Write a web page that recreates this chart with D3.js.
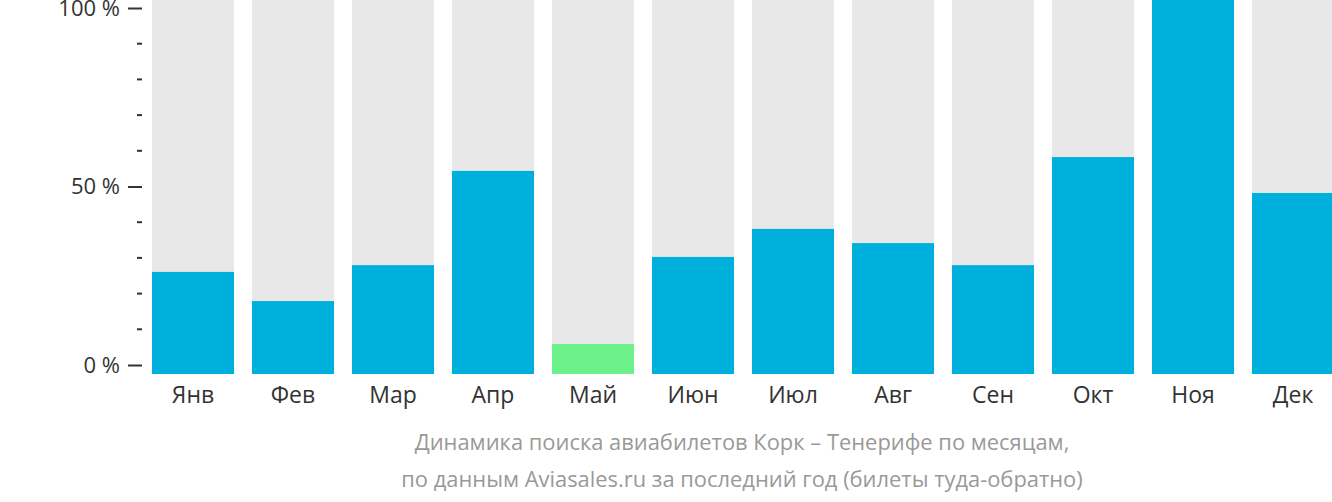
<!DOCTYPE html>
<html><head><meta charset="utf-8">
<script src="https://cdn.jsdelivr.net/npm/d3@7"></script>
<style>body{margin:0;background:#fff}text{font-family:"Open Sans",sans-serif}</style>
</head><body><svg id="c" width="1332" height="502"></svg>
<script>
const months = ["Янв","Фев","Мар","Апр","Май","Июн","Июл","Авг","Сен","Окт","Ноя","Дек"];
const values = [27.3,19.5,29.1,54.3,8.0,31.3,38.8,35.0,29.1,58.0,100,48.4];
const lowIndex = 4;
const tickValues = [0,50,100];
const titleLines = ["Динамика поиска авиабилетов Корк – Тенерифе по месяцам,",
  "по данным Aviasales.ru за последний год (билеты туда-обратно)"];

const svg = d3.select("#c");
const x = d3.scaleBand().domain(months).range([143,1343]).paddingInner(0.18).paddingOuter(0.09);
const y = d3.scaleLinear().domain([0,100]).range([374,0]);
const yAxisScale = d3.scaleLinear().domain([0,100]).range([365,8]);

svg.selectAll(".bg").data(months).join("rect")
  .attr("x",d=>x(d)).attr("width",x.bandwidth()).attr("y",y(100)).attr("height",y(0)-y(100))
  .attr("fill","#e8e8e8");
svg.selectAll(".bar").data(values).join("rect")
  .attr("x",(d,i)=>x(months[i])).attr("width",x.bandwidth())
  .attr("y",d=>y(d)).attr("height",d=>y(0)-y(d))
  .attr("fill",(d,i)=>i===lowIndex?"#6bf08a":"#00b0dc");

// minor ticks
const g = svg.append("g").attr("transform","translate(142,0)");
g.selectAll(".minor").data(d3.range(0,101,10).filter(v=>v%50)).join("line")
  .attr("x1",-5).attr("x2",0).attr("y1",d=>yAxisScale(d)).attr("y2",d=>yAxisScale(d))
  .attr("stroke","#333").attr("stroke-width",2);
const ax = g.append("g").call(d3.axisLeft(yAxisScale).tickValues(tickValues).tickSize(14).tickPadding(8).tickFormat(d=>d+" %"));
ax.select(".domain").remove();
ax.selectAll("line").attr("stroke","#333").attr("stroke-width",2);
ax.selectAll("text").attr("font-size",22).attr("fill","#333").attr("font-family","Open Sans");

const xa = svg.append("g").attr("transform","translate(0,374)").call(d3.axisBottom(x).tickSize(0).tickPadding(13));
xa.select(".domain").remove();
xa.selectAll("text").attr("font-size",23).attr("fill","#333").attr("font-family","Open Sans");

svg.selectAll(".title").data(titleLines).join("text")
  .attr("x",742).attr("y",(d,i)=>450+i*37).attr("text-anchor","middle")
  .attr("font-size",21.9).attr("fill","#999").text(d=>d);
</script></body></html>
